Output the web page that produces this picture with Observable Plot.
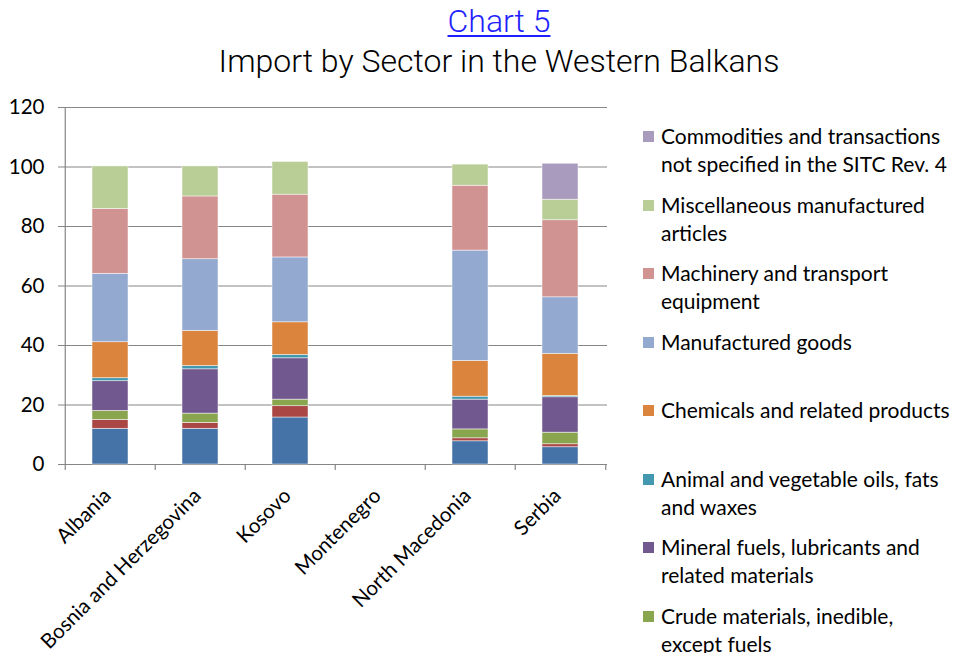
<!DOCTYPE html>
<html><head><meta charset="utf-8">
<script src="https://cdn.jsdelivr.net/npm/d3@7"></script>
<script src="https://cdn.jsdelivr.net/npm/@observablehq/plot@0.6"></script>
<style>
html,body{margin:0;padding:0;width:955px;height:653px;overflow:hidden;background:#fff;}
#wrap{position:relative;width:955px;height:653px;}
#chart{position:absolute;left:0;top:0;}
.title{position:absolute;left:499px;transform:translateX(-50%);white-space:nowrap;font-family:Roboto,sans-serif;font-weight:300;color:#000;}
#t1{top:3px;font-size:32px;line-height:36px;color:#1f1fff;text-decoration:underline;text-decoration-thickness:1.5px;text-underline-offset:3px;}
#t2{top:42px;font-size:32px;line-height:38px;}
.leg{position:absolute;left:643px;font-family:Lato,sans-serif;font-size:21px;line-height:28px;color:#000;white-space:pre;}
.leg .sw{position:absolute;left:0;top:9px;width:11px;height:11px;}
.leg .tx{position:absolute;left:18px;top:0;}
</style></head>
<body><div id="wrap">
<div id="chart"></div>
<div class="title" id="t1">Chart 5</div>
<div class="title" id="t2">Import by Sector in the Western Balkans</div>
<div id="legend"></div>
</div>
<script>
const countries = ["Albania","Bosnia and Herzegovina","Kosovo","Montenegro","North Macedonia","Serbia"];
const sectors = [
  "Food and live animals",
  "Beverages and tobacco",
  "Crude materials, inedible, except fuels",
  "Mineral fuels, lubricants and related materials",
  "Animal and vegetable oils, fats and waxes",
  "Chemicals and related products",
  "Manufactured goods",
  "Machinery and transport equipment",
  "Miscellaneous manufactured articles",
  "Commodities and transactions not specified in the SITC Rev. 4"
];
const legendLabels = [
  "Food and live animals",
  "Beverages and tobacco",
  "Crude materials, inedible,\nexcept fuels",
  "Mineral fuels, lubricants and\nrelated materials",
  "Animal and vegetable oils, fats\nand waxes",
  "Chemicals and related products",
  "Manufactured goods",
  "Machinery and transport\nequipment",
  "Miscellaneous manufactured\narticles",
  "Commodities and transactions\nnot specified in the SITC Rev. 4"
];
const colors = ["#4572A7","#AA4643","#89A54E","#71588F","#4198AF","#DB843D","#93A9CF","#D19392","#B9CD96","#A99BBD"];

const food         = [12.0, 12.0, 15.8, null, 7.8, 5.8];
const beverages    = [3.0, 2.0, 3.8, null, 1.0, 1.0];
const crude        = [3.0, 3.1, 2.2, null, 3.0, 3.9];
const mineral      = [10.0, 14.9, 13.9, null, 10.0, 11.9];
const oils         = [1.0, 1.1, 1.1, null, 1.0, 0.4];
const chemicals    = [12.1, 11.8, 11.0, null, 12.0, 14.2];
const manufactured = [23.0, 24.1, 21.8, null, 37.1, 19.0];
const machinery    = [21.8, 21.1, 21.1, null, 21.8, 25.9];
const misc         = [14.3, 10.1, 11.0, null, 7.1, 6.9];
const commodities  = [0, 0, 0, null, 0, 12.1];
const yTicks = [0, 20, 40, 60, 80, 100, 120];

const series = [food, beverages, crude, mineral, oils, chemicals, manufactured, machinery, misc, commodities];
const data = sectors.flatMap((s, i) => countries.map((c, j) => ({country: c, sector: s, value: series[i][j]})))
  .filter(d => d.value != null && d.value > 0);

const W = 620, ML = 64, MR = 13;
const step = (W - ML - MR) / countries.length;
const grid = "#868686";
const font = "Lato, sans-serif";

const chart = Plot.plot({
  width: W, height: 653,
  marginLeft: ML, marginRight: MR, marginTop: 107, marginBottom: 189,
  style: {fontFamily: font, background: "transparent"},
  x: {domain: countries, paddingInner: 0.6, paddingOuter: 0.3, axis: null, label: null},
  y: {domain: [0, 120], axis: null, label: null},
  color: {domain: sectors, range: colors},
  marks: [
    Plot.gridY(yTicks, {stroke: grid, strokeOpacity: 1, strokeWidth: 1.2}),
    Plot.barY(data, {x: "country", y: "value", fill: "sector", stroke: "white", strokeWidth: 0.7, strokeOpacity: 0.7}),
    Plot.ruleX([countries[0]], {x: d => d, dx: -step / 2, y1: -2, y2: 120, stroke: grid, strokeWidth: 1.2}),
    Plot.ruleX(countries.slice(1), {x: d => d, dx: -step / 2, y1: 0, y2: -2, stroke: grid, strokeWidth: 1.2}),
    Plot.ruleX([countries[countries.length - 1]], {x: d => d, dx: step / 2, y1: 0, y2: -2, stroke: grid, strokeWidth: 1.2}),
    Plot.axisY(yTicks, {tickSize: 6, tickPadding: 14, fontSize: 20.5, stroke: grid, fill: "black", label: null}),
    Plot.axisX(countries, {tickRotate: -45, tickSize: 0, tickPadding: 24, dx: -3, dy: 4, fontSize: 20.5, fill: "black", label: null})
  ]
});
document.getElementById("chart").appendChild(chart);

const legend = document.getElementById("legend");
for (let k = sectors.length - 1, r = 0; k >= 0; k--, r++) {
  const item = document.createElement("div");
  item.className = "leg";
  item.style.top = (122 + r * 68.5) + "px";
  const sw = document.createElement("div");
  sw.className = "sw";
  sw.style.background = colors[k];
  const tx = document.createElement("div");
  tx.className = "tx";
  tx.textContent = legendLabels[k];
  item.appendChild(sw); item.appendChild(tx);
  legend.appendChild(item);
}
</script>
</body></html>
